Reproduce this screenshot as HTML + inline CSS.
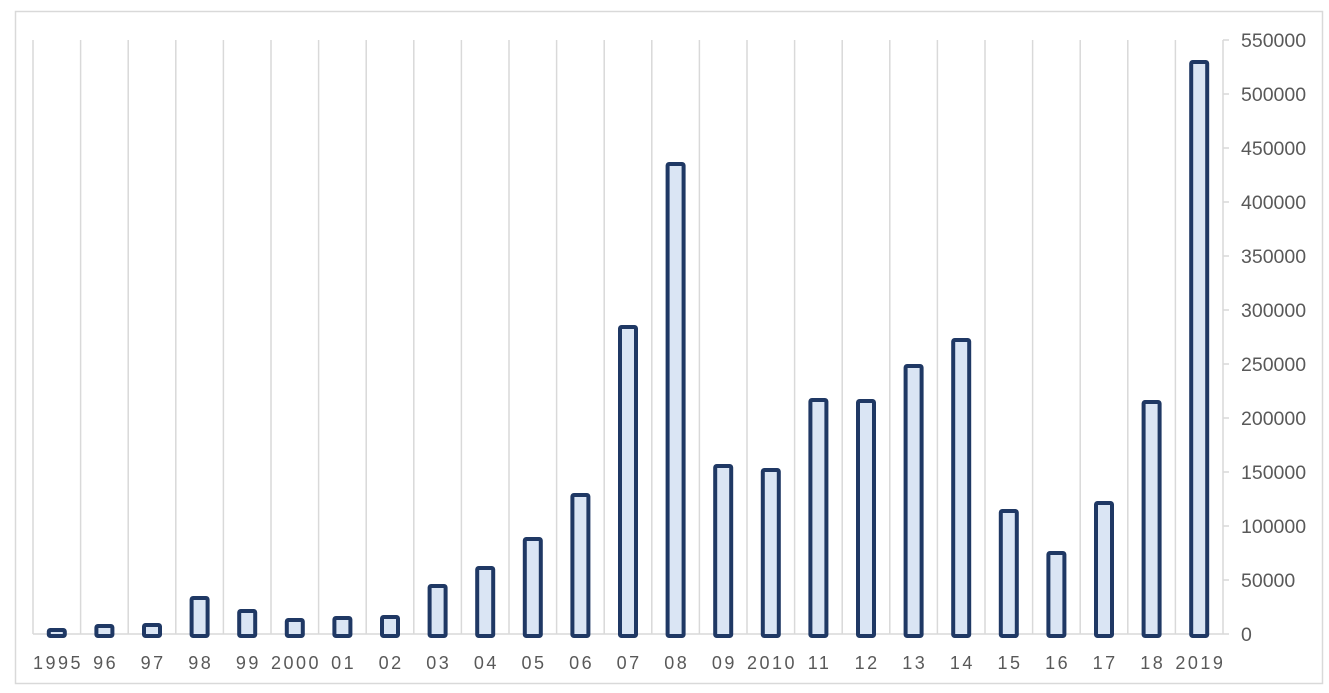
<!DOCTYPE html><html><head><style>body{margin:0;background:#fff}svg{display:block}text{font-family:"Liberation Sans",sans-serif;fill:#595959}</style></head><body>
<svg width="1329" height="693" xmlns="http://www.w3.org/2000/svg">
<rect x="15.5" y="11.5" width="1307" height="672" fill="#fff" stroke="#d9d9d9" stroke-width="1.5"/>
<g stroke="#d9d9d9" stroke-width="1.5">
<line x1="33" y1="40" x2="33" y2="634"/><line x1="80.6" y1="40" x2="80.6" y2="634"/><line x1="128.2" y1="40" x2="128.2" y2="634"/><line x1="175.8" y1="40" x2="175.8" y2="634"/><line x1="223.4" y1="40" x2="223.4" y2="634"/><line x1="271" y1="40" x2="271" y2="634"/><line x1="318.6" y1="40" x2="318.6" y2="634"/><line x1="366.2" y1="40" x2="366.2" y2="634"/><line x1="413.8" y1="40" x2="413.8" y2="634"/><line x1="461.4" y1="40" x2="461.4" y2="634"/><line x1="509" y1="40" x2="509" y2="634"/><line x1="556.6" y1="40" x2="556.6" y2="634"/><line x1="604.2" y1="40" x2="604.2" y2="634"/><line x1="651.8" y1="40" x2="651.8" y2="634"/><line x1="699.4" y1="40" x2="699.4" y2="634"/><line x1="747" y1="40" x2="747" y2="634"/><line x1="794.6" y1="40" x2="794.6" y2="634"/><line x1="842.2" y1="40" x2="842.2" y2="634"/><line x1="889.8" y1="40" x2="889.8" y2="634"/><line x1="937.4" y1="40" x2="937.4" y2="634"/><line x1="985" y1="40" x2="985" y2="634"/><line x1="1032.6" y1="40" x2="1032.6" y2="634"/><line x1="1080.2" y1="40" x2="1080.2" y2="634"/><line x1="1127.8" y1="40" x2="1127.8" y2="634"/><line x1="1175.4" y1="40" x2="1175.4" y2="634"/><line x1="1223" y1="40" x2="1223" y2="634"/>
<line x1="33" y1="634" x2="1223" y2="634"/>
<line x1="1223" y1="634" x2="1229" y2="634"/><line x1="1223" y1="580" x2="1229" y2="580"/><line x1="1223" y1="526" x2="1229" y2="526"/><line x1="1223" y1="472" x2="1229" y2="472"/><line x1="1223" y1="418" x2="1229" y2="418"/><line x1="1223" y1="364" x2="1229" y2="364"/><line x1="1223" y1="310" x2="1229" y2="310"/><line x1="1223" y1="256" x2="1229" y2="256"/><line x1="1223" y1="202" x2="1229" y2="202"/><line x1="1223" y1="148" x2="1229" y2="148"/><line x1="1223" y1="94" x2="1229" y2="94"/><line x1="1223" y1="40" x2="1229" y2="40"/>
</g>
<g font-size="19.5">
<text x="1241" y="641">0</text><text x="1241" y="587">50000</text><text x="1241" y="533">100000</text><text x="1241" y="479">150000</text><text x="1241" y="425">200000</text><text x="1241" y="371">250000</text><text x="1241" y="317">300000</text><text x="1241" y="263">350000</text><text x="1241" y="209">400000</text><text x="1241" y="155">450000</text><text x="1241" y="101">500000</text><text x="1241" y="47">550000</text>
</g>
<g fill="#dae5f4" stroke="#1f3864" stroke-width="4">
<rect x="48.8" y="630" width="16" height="6" rx="1.5"/>
<rect x="96.4" y="626" width="16" height="10" rx="1.5"/>
<rect x="144" y="625" width="16" height="11" rx="1.5"/>
<rect x="191.6" y="598" width="16" height="38" rx="1.5"/>
<rect x="239.2" y="611" width="16" height="25" rx="1.5"/>
<rect x="286.8" y="620" width="16" height="16" rx="1.5"/>
<rect x="334.4" y="618" width="16" height="18" rx="1.5"/>
<rect x="382" y="617" width="16" height="19" rx="1.5"/>
<rect x="429.6" y="586" width="16" height="50" rx="1.5"/>
<rect x="477.2" y="568" width="16" height="68" rx="1.5"/>
<rect x="524.8" y="539" width="16" height="97" rx="1.5"/>
<rect x="572.4" y="495" width="16" height="141" rx="1.5"/>
<rect x="620" y="327" width="16" height="309" rx="1.5"/>
<rect x="667.6" y="164" width="16" height="472" rx="1.5"/>
<rect x="715.2" y="466" width="16" height="170" rx="1.5"/>
<rect x="762.8" y="470" width="16" height="166" rx="1.5"/>
<rect x="810.4" y="400" width="16" height="236" rx="1.5"/>
<rect x="858" y="401" width="16" height="235" rx="1.5"/>
<rect x="905.6" y="366" width="16" height="270" rx="1.5"/>
<rect x="953.2" y="340" width="16" height="296" rx="1.5"/>
<rect x="1000.8" y="511" width="16" height="125" rx="1.5"/>
<rect x="1048.4" y="553" width="16" height="83" rx="1.5"/>
<rect x="1096" y="503" width="16" height="133" rx="1.5"/>
<rect x="1143.6" y="402" width="16" height="234" rx="1.5"/>
<rect x="1191.2" y="62" width="16" height="574" rx="1.5"/>
</g>
<g font-size="18" text-anchor="middle" letter-spacing="2.5">
<text x="58" y="669">1995</text><text x="105.6" y="669">96</text><text x="153.2" y="669">97</text><text x="200.8" y="669">98</text><text x="248.4" y="669">99</text><text x="296" y="669">2000</text><text x="343.6" y="669">01</text><text x="391.2" y="669">02</text><text x="438.8" y="669">03</text><text x="486.4" y="669">04</text><text x="534" y="669">05</text><text x="581.6" y="669">06</text><text x="629.2" y="669">07</text><text x="676.8" y="669">08</text><text x="724.4" y="669">09</text><text x="772" y="669">2010</text><text x="819.6" y="669">11</text><text x="867.2" y="669">12</text><text x="914.8" y="669">13</text><text x="962.4" y="669">14</text><text x="1010" y="669">15</text><text x="1057.6" y="669">16</text><text x="1105.2" y="669">17</text><text x="1152.8" y="669">18</text><text x="1200.4" y="669">2019</text>
</g>
</svg></body></html>
